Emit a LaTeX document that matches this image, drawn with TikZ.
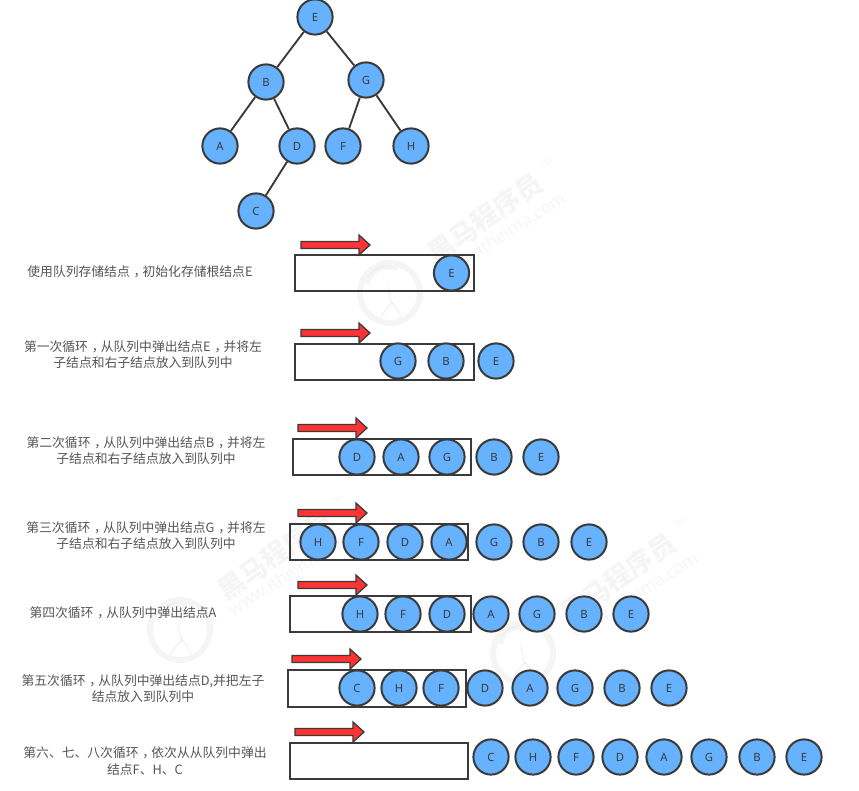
\documentclass[tikz,border=0pt]{standalone}
\usepackage{fontspec}
\setmainfont{Noto Sans}
\newfontfamily\cjk{Noto Sans CJK SC}
\definecolor{nodefill}{HTML}{66B2FF}
\definecolor{ink}{HTML}{3A3A3A}
\definecolor{redfill}{HTML}{FF3333}
\definecolor{txt}{HTML}{555555}
\tikzset{
  treenode/.style={circle,draw=ink,fill=nodefill,line width=1.5pt,minimum size=26.4pt,inner sep=0pt,text=ink,font=\fontsize{8.5pt}{10pt}\selectfont},
  edge/.style={draw=ink,line width=1.4pt},
  queue/.style={draw=ink,line width=1.2pt},
  step text/.style={align=center,text=txt,font=\cjk\fontsize{9.6pt}{12.2pt}\selectfont,inner sep=0pt},
  pointer/.style={draw=ink,fill=redfill,line width=0.95pt,line join=miter},
  wmark/.style={black,opacity=0.04,inner sep=0pt},
  wmline/.style={draw=black,draw opacity=0.04,line cap=round},
}
\newcommand{\qc}{\kern0.3em，\kern-0.3em}
\newcommand{\qarrow}[2]{%
  \draw[pointer] (#1,#2-3.5) -- (#1+58,#2-3.5) -- (#1+58,#2-10) -- (#1+69,#2) -- (#1+58,#2+10) -- (#1+58,#2+3.5) -- (#1,#2+3.5) -- cycle;}
\newcommand{\wm}[3]{%
  \begin{scope}[shift={(#1,#2)}]
    \draw[wmline,line width=4.5pt] (0,0) circle[radius=30];
    \draw[wmline,line width=3pt] (-22,-10) .. controls (-18,-24) and (-6,-28) .. (6,-24);
    \draw[wmline,line width=1.4pt] (-2,-6) .. controls (-1,2) and (0,6) .. (2,10);
    \draw[wmline,line width=1.4pt] (2,10) .. controls (-2,14) and (-6,18) .. (-9,24);
    \draw[wmline,line width=1.4pt] (2,10) .. controls (6,14) and (9,18) .. (11,24);
    \node[wmark,rotate=35,font={\cjk\bfseries\fontsize{20pt}{24pt}\selectfont}] (wname#3) at (95,-75) {黑马程序员};
    \node[wmark,rotate=32,font=\fontsize{13pt}{15pt}\selectfont] (wurl#3) at (112,-58) {www.itheima.com};
    \node[wmark,rotate=35,font=\fontsize{6pt}{7pt}\selectfont] (wtm#3) at (157,-130) {TM};
  \end{scope}}
\begin{document}
\begin{tikzpicture}[x=0.75pt,y=-0.75pt]
\useasboundingbox (0,0) rectangle (859,791);
\fill[white] (0,0) rectangle (859,791);
% watermarks
\wm{390}{293}{a}
\wm{180}{630}{b}
\wm{523}{653}{c}
% tree
\node[treenode] (tE) at (315,17) {E};
\node[treenode] (tB) at (266,82) {B};
\node[treenode] (tG) at (366,80) {G};
\node[treenode] (tA) at (220,146) {A};
\node[treenode] (tD) at (297,146) {D};
\node[treenode] (tF) at (343,146) {F};
\node[treenode] (tH) at (411,146) {H};
\node[treenode] (tC) at (256,211) {C};
\draw[edge] (tE)--(tB); \draw[edge] (tE)--(tG);
\draw[edge] (tB)--(tA); \draw[edge] (tB)--(tD);
\draw[edge] (tG)--(tF); \draw[edge] (tG)--(tH);
\draw[edge] (tD)--(tC);
% row 1
\node[step text] (l1) at (140,272) {使用队列存储结点\qc 初始化存储根结点E};
\draw[queue] (295,255) rectangle (474,291);
\qarrow{301}{245}
\node[treenode] (a1) at (451.5,273) {E};
% row 2
\node[step text] (l2) at (143,355) {第一次循环\qc 从队列中弹出结点E\qc 并将左\\子结点和右子结点放入到队列中};
\draw[queue] (295,344) rectangle (474,380);
\qarrow{301}{333}
\foreach \n/\t/\x in {b1/G/398,b2/B/446,b3/E/496}{\node[treenode] (\n) at (\x,361) {\t};}
% row 3
\node[step text] (l3) at (146,450.5) {第二次循环\qc 从队列中弹出结点B\qc 并将左\\子结点和右子结点放入到队列中};
\draw[queue] (293,439) rectangle (471,475);
\qarrow{298}{428}
\foreach \n/\t/\x in {c1/D/357,c2/A/401,c3/G/447,c4/B/494,c5/E/541}{\node[treenode] (\n) at (\x,457) {\t};}
% row 4
\node[step text] (l4) at (146,535.5) {第三次循环\qc 从队列中弹出结点G\qc 并将左\\子结点和右子结点放入到队列中};
\draw[queue] (290,524) rectangle (468,560);
\qarrow{298}{513}
\foreach \n/\t/\x in {d1/H/318,d2/F/361,d3/D/405,d4/A/449,d5/G/494,d6/B/541,d7/E/589}{\node[treenode] (\n) at (\x,542) {\t};}
% row 5
\node[step text] (l5) at (123,613) {第四次循环\qc 从队列中弹出结点A};
\draw[queue] (290,596) rectangle (471,632);
\qarrow{298}{585}
\foreach \n/\t/\x in {e1/H/360,e2/F/403,e3/D/447,e4/A/491,e5/G/537,e6/B/584,e7/E/631}{\node[treenode] (\n) at (\x,614) {\t};}
% row 6
\node[step text] (l6) at (143,688.5) {第五次循环\qc 从队列中弹出结点D,并把左子\\结点放入到队列中};
\draw[queue] (288,670) rectangle (466,707);
\qarrow{292}{659}
\foreach \n/\t/\x in {f1/C/357,f2/H/399,f3/F/441,f4/D/485,f5/A/530,f6/G/575,f7/B/622,f8/E/669}{\node[treenode] (\n) at (\x,688) {\t};}
% row 7
\node[step text] (l7) at (145,761) {第六、七、八次循环\qc 依次从从队列中弹出\\结点F、H、C};
\draw[queue] (290,743) rectangle (468,779);
\qarrow{295}{732}
\foreach \n/\t/\x in {g1/C/491,g2/H/533,g3/F/576,g4/D/620,g5/A/664,g6/G/709,g7/B/757,g8/E/804}{\node[treenode] (\n) at (\x,757) {\t};}
\end{tikzpicture}
\end{document}
